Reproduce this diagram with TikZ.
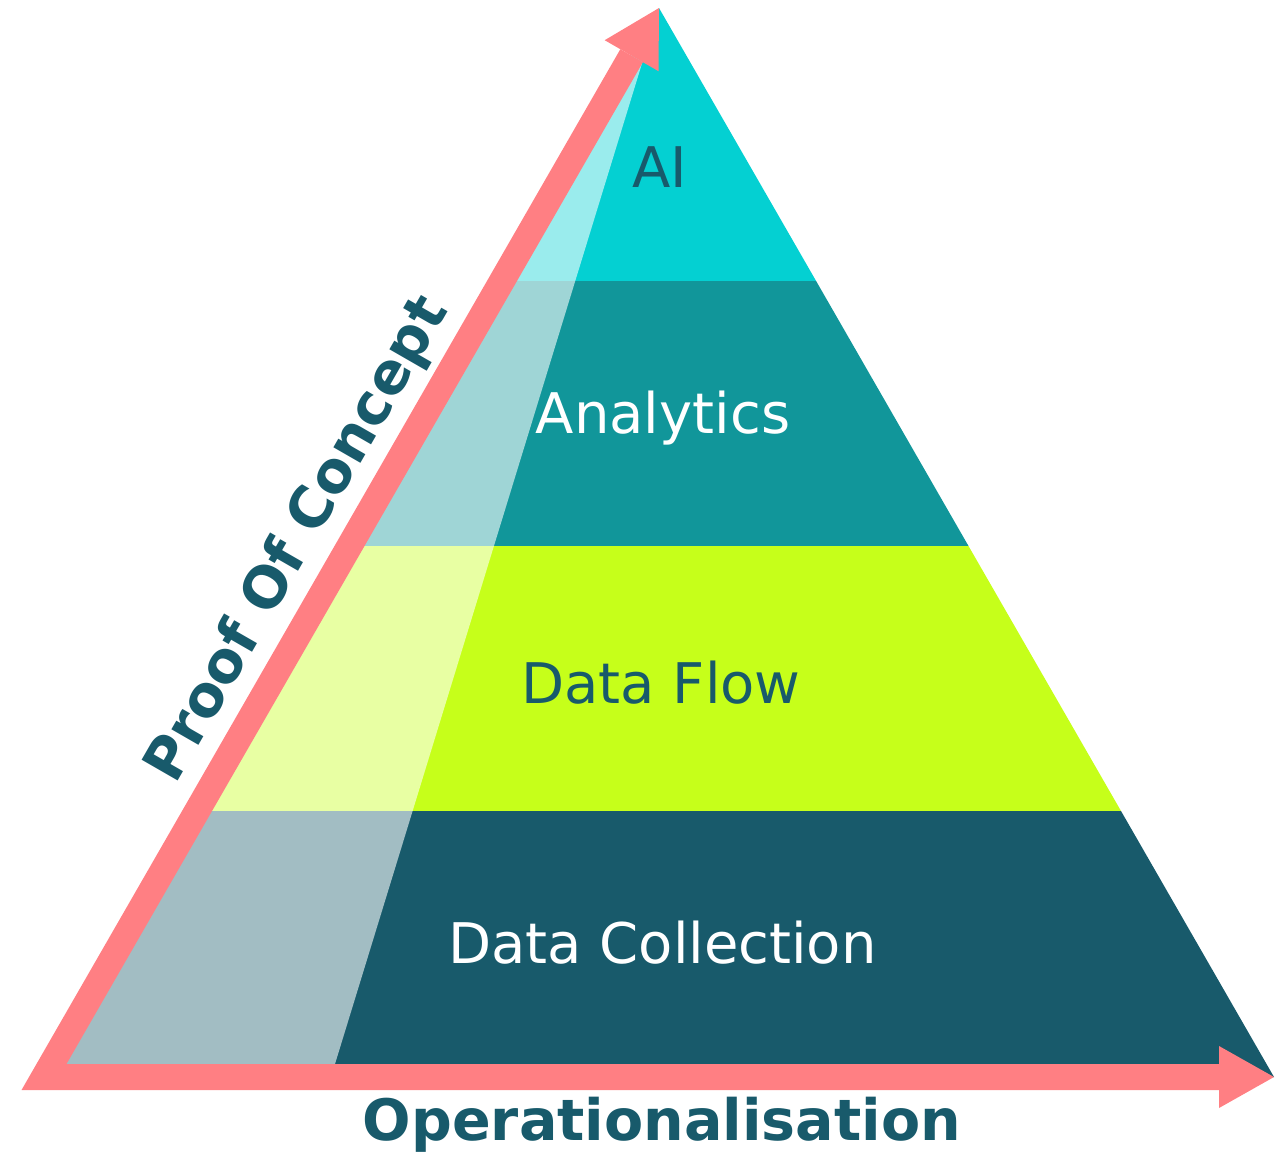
\documentclass[tikz,border=0pt]{standalone}
\usepackage{fontspec}
\setmainfont{DejaVu Sans}
\definecolor{aicol}{HTML}{04D0D2}
\definecolor{ancol}{HTML}{11969A}
\definecolor{dfcol}{HTML}{C6FF1A}
\definecolor{dccol}{HTML}{185A6B}
\definecolor{ink}{HTML}{185A6B}
\definecolor{arrowpink}{HTML}{FF7F83}
\begin{document}
\begin{tikzpicture}[x=0.75pt,y=-0.75pt,
  lbl/.style={font=\fontsize{42}{50}\selectfont, anchor=base, inner sep=0pt},
  axislbl/.style={font=\fontsize{42.8}{50}\selectfont\bfseries, anchor=base, inner sep=0pt, text=ink},
  pinkband/.style={draw=arrowpink, line width=19.5pt, line join=miter, miter limit=10},
  pinkhead/.style={fill=arrowpink, draw=none},
  veil/.style={fill=white, fill opacity=0.6}
]
\useasboundingbox (0,0) rectangle (1288,1153);
% triangle corners and layer boundaries
\coordinate (A) at (659,8);
\coordinate (L) at (44,1077);
\coordinate (R) at (1274,1077);
\coordinate (L1) at (501.9,281); \coordinate (R1) at (816.1,281);
\coordinate (L2) at (349.5,546); \coordinate (R2) at (968.5,546);
\coordinate (L3) at (197.0,811); \coordinate (R3) at (1121.0,811);
\coordinate (O) at (331,1077);
% layers
\fill[aicol] (A) -- (R1) -- (L1) -- cycle;
\fill[ancol] (L1) -- (R1) -- (R2) -- (L2) -- cycle;
\fill[dfcol] (L2) -- (R2) -- (R3) -- (L3) -- cycle;
\fill[dccol] (L3) -- (R3) -- (R) -- (L) -- cycle;
% light veil on the left
\fill[veil] (A) -- (O) -- (L) -- cycle;
% pink axes
\coordinate (UB) at (631.6,55.7);
\coordinate (UW1) at (604.7,40.2);
\coordinate (UW2) at (658.5,71.2);
\coordinate (RB) at (1219,1077);
\coordinate (RW1) at (1219,1046);
\coordinate (RW2) at (1219,1108);
\draw[pinkband] (UB) -- (L) -- (RB);
\fill[pinkhead] (A) -- (UW1) -- (UW2) -- cycle;
\fill[pinkhead] (R) -- (RW1) -- (RW2) -- cycle;
% labels
\node[lbl, text=ink] (ai) at (660,187) {AI};
\node[lbl, text=white] (an) at (663,433) {Analytics};
\node[lbl, text=ink] (df) at (661,703) {Data Flow};
\node[lbl, text=white] (dc) at (662.5,963) {Data Collection};
\node[axislbl] (op) at (662,1140) {Operationalisation};
\node[axislbl, rotate=60.08] (poc) at (312,548) {Proof Of Concept};
\end{tikzpicture}
\end{document}
